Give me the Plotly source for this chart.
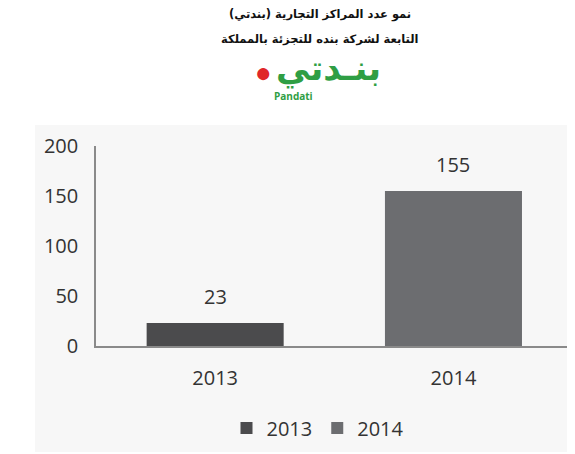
import plotly.graph_objects as go

categories = ["2013", "2014"]
series_names = ["2013", "2014"]
values = [23, 155]
bar_colors = ["#4b4b4d", "#6c6d70"]
y_ticks = [0, 50, 100, 150, 200]
title_line1 = "نمو عدد المراكز التجارية (بندتي)"
title_line2 = "التابعة لشركة بنده للتجزئة بالمملكة"
logo_ar = "بنـدتي"
logo_en = "Pandati"

OFF = 8  # page body margin
W, H = 575 - OFF, 454 - OFF
L, R, T, B = 96 - OFF, 0, 146 - OFF, 454 - 346
pw, ph = W - L - R, H - T - B

def px(x):
    return (x - OFF - L) / pw

def py(y):
    return (H - B - (y - OFF)) / ph

fig = go.Figure()
for i, (name, cat, val, col) in enumerate(zip(series_names, categories, values, bar_colors)):
    fig.add_trace(go.Bar(
        x=[cat], y=[val], name=name, marker=dict(color=col, line=dict(width=0)),
        width=0.575,
    ))
    fig.add_annotation(x=i, y=val, xref="x", yref="y", text=str(val),
                       showarrow=False, yanchor="bottom", yshift=11,
                       font=dict(size=20, color="#333333", family="Open Sans"))

fig.update_layout(
    width=W, height=H,
    margin=dict(l=L, r=R, t=T, b=B, autoexpand=False),
    barmode="overlay",
    paper_bgcolor="white",
    plot_bgcolor="#f7f7f7",
    font=dict(family="Open Sans", size=20, color="#333333"),
    showlegend=True,
    legend=dict(orientation="h", x=px(318), y=py(428), xanchor="center", yanchor="middle",
                font=dict(size=20, color="#333333"), bgcolor="rgba(0,0,0,0)",
                itemwidth=30, traceorder="normal"),
    xaxis=dict(type="category", range=[-0.5, 1.51], showgrid=False, showline=True,
               linecolor="#8a8a8a", linewidth=1.5, ticks="", ticklabelstandoff=13,
               tickfont=dict(size=20), fixedrange=True),
    yaxis=dict(range=[0, 200], tickvals=y_ticks, showgrid=False, showline=True,
               linecolor="#8a8a8a", linewidth=1.5, ticks="", ticklabelstandoff=12,
               tickfont=dict(size=20), zeroline=False, fixedrange=True),
)

# light chart background panel
fig.add_shape(type="rect", xref="paper", yref="paper",
              x0=px(35), x1=px(580), y0=py(452), y1=py(125),
              fillcolor="#f7f7f7", line=dict(width=0), layer="below")

fig.add_annotation(text="<b>" + title_line1 + "</b>", xref="paper", yref="paper",
                   x=px(320), y=py(5), showarrow=False,
                   font=dict(family="DejaVu Sans", size=11.5, color="#111111"))
fig.add_annotation(text="<b>" + title_line2 + "</b>", xref="paper", yref="paper",
                   x=px(320), y=py(30), showarrow=False,
                   font=dict(family="DejaVu Sans", size=11.5, color="#111111"))
fig.add_annotation(text="<b>" + logo_ar + "</b>", xref="paper", yref="paper",
                   x=px(328), y=py(46), showarrow=False,
                   font=dict(family="DejaVu Sans", size=34, color="#2f9e44"))
fig.add_annotation(text="<b>" + logo_en + "</b>", xref="paper", yref="paper",
                   x=px(293), y=py(87), showarrow=False,
                   font=dict(family="Open Sans", size=10, color="#2f9e44"))
fig.add_annotation(text="●", xref="paper", yref="paper",
                   x=px(263), y=py(50), showarrow=False,
                   font=dict(size=28, color="#e0262a"))

fig.write_html("out.html")
